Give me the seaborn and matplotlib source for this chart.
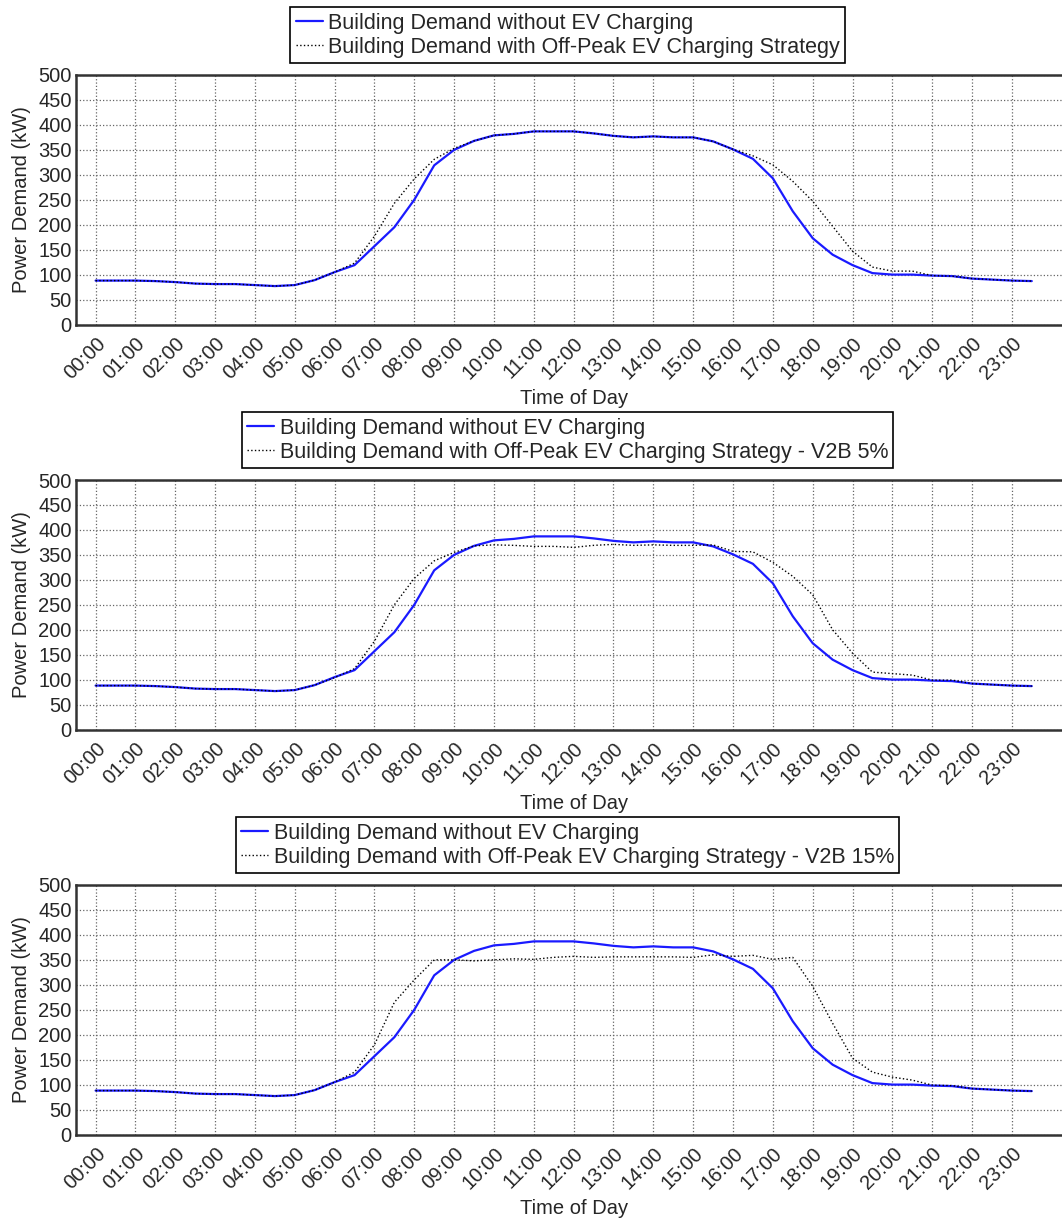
import numpy as np
import pandas as pd
import matplotlib
matplotlib.use("Agg")
import matplotlib.pyplot as plt
import seaborn as sns

# Half-hourly time axis (hours after midnight)
hours = np.arange(0, 24, 0.5)
tick_hours = list(range(24))
tick_labels = [f"{h:02d}:00" for h in tick_hours]

# Building demand without EV charging (kW)
base_demand = [88, 88, 88, 87, 85, 82, 81, 81, 79, 77, 79, 89,
               105, 119, 157, 195, 250, 319, 350, 368, 379, 382, 387, 387,
               387, 383, 378, 375, 377, 375, 375, 367, 351, 332, 293, 227,
               173, 140, 119, 103, 100, 100, 98, 97, 92, 90, 88, 87]

# Building demand with off-peak EV charging strategy (kW)
offpeak_demand = [88, 88, 88, 87, 85, 82, 81, 81, 79, 77, 79, 89,
                  105, 123, 177, 243, 292, 331, 353, 368, 379, 382, 387, 387,
                  387, 383, 378, 375, 377, 375, 375, 367, 351, 338, 320, 287,
                  247, 197, 147, 115, 107, 107, 98, 97, 92, 90, 88, 87]

# Off-peak strategy with 5% vehicle-to-building discharge (kW)
v2b5_demand = [88, 88, 88, 87, 85, 82, 81, 81, 79, 77, 79, 89,
               104, 122, 177, 250, 303, 338, 355, 368, 370, 369, 367, 367,
               365, 369, 371, 369, 370, 369, 369, 370, 357, 356, 335, 307,
               270, 200, 153, 115, 112, 109, 99, 99, 92, 90, 88, 87]

# Off-peak strategy with 15% vehicle-to-building discharge (kW)
v2b15_demand = [88, 88, 88, 87, 85, 82, 81, 81, 79, 77, 79, 89,
                105, 125, 180, 265, 310, 350, 350, 348, 350, 352, 351, 355,
                357, 355, 356, 356, 356, 356, 355, 360, 357, 359, 351, 355,
                297, 223, 153, 125, 115, 109, 99, 98, 92, 90, 88, 87]

label_base = "Building Demand without EV Charging"
panel_labels = [
    "Building Demand with Off-Peak EV Charging Strategy",
    "Building Demand with Off-Peak EV Charging Strategy - V2B 5%",
    "Building Demand with Off-Peak EV Charging Strategy - V2B 15%",
]
panel_series = [offpeak_demand, v2b5_demand, v2b15_demand]

sns.set_style("white")
plt.rcParams["font.family"] = ["Liberation Sans", "DejaVu Sans"]
plt.rcParams["font.size"] = 14.5

W, H = 1062, 1219
fig = plt.figure(figsize=(W / 100, H / 100), dpi=100)

# axes placement in pixels
left_px, right_px = 75.7, 1071.6
tops = [75, 480, 885]
height_px = 249.5

for top, series, lab in zip(tops, panel_series, panel_labels):
    ax = fig.add_axes([left_px / W, 1 - (top + height_px) / H,
                       (right_px - left_px) / W, height_px / H])
    df = pd.DataFrame({"hour": hours, "base": base_demand, "ev": series})
    sns.lineplot(data=df, x="hour", y="base", ax=ax, color="#1a1aff",
                 linewidth=1.6, label=label_base)
    sns.lineplot(data=df, x="hour", y="ev", ax=ax, color="black",
                 linewidth=1.0, linestyle=":", label=lab)

    ax.set_xlim(-0.5, 24.5)
    ax.set_ylim(0, 500)
    ax.set_yticks(np.arange(0, 501, 50))
    ax.set_xticks(tick_hours)
    ax.set_xticklabels(tick_labels, rotation=45, ha="right", va="top",
                       rotation_mode="anchor")
    ax.tick_params(axis="both", direction="in", length=4, width=1,
                   labelsize=14.5, color="#333333", pad=3)
    ax.tick_params(axis="x", pad=7)
    ax.grid(True, linestyle=":", linewidth=0.9, color="#666666")
    for side in ["left", "bottom", "top"]:
        ax.spines[side].set_color("#333333")
        ax.spines[side].set_linewidth(1.8)
    ax.spines["right"].set_visible(False)
    ax.set_xlabel("Time of Day", fontsize=14.5, labelpad=4)
    ax.set_ylabel("Power Demand (kW)", fontsize=14.5, labelpad=5)

    leg = ax.legend(loc="lower center", bbox_to_anchor=(0.494, 1.0),
                    bbox_transform=ax.transAxes, borderaxespad=0.55,
                    fontsize=15.5, frameon=True, fancybox=False,
                    handlelength=1.25, handletextpad=0.25, borderpad=0.25,
                    labelspacing=0.15)
    leg.get_frame().set_edgecolor("black")
    leg.get_frame().set_linewidth(1.2)
    leg.get_frame().set_alpha(1)

fig.savefig("out.png", dpi=100)
